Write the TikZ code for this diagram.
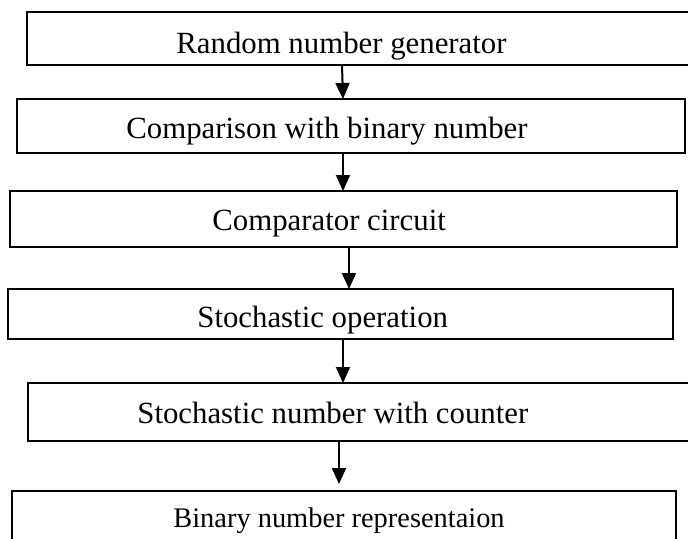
\documentclass[tikz,border=0pt]{standalone}
\usepackage{fontspec}
\setmainfont{Liberation Serif}
\usetikzlibrary{arrows.meta}
\begin{document}
\begin{tikzpicture}[x=0.5pt,y=-0.5pt,
  box/.style={draw,line width=1pt,rectangle,inner sep=0pt,outer sep=0pt,anchor=north west},
  lbl/.style={inner sep=0pt,anchor=base west,font=\fontsize{15.4pt}{18pt}\selectfont},
  flow/.style={line width=1pt,-{Triangle[length=8pt,width=7pt]}}]
\useasboundingbox (0,0) rectangle (688,538);
\begin{scope}
\clip (0,0) rectangle (688,538);
\node[box,minimum width=346.5pt,minimum height=26.5pt] (b1) at (27,12) {};
\node[box,minimum width=334pt,minimum height=27pt] (b2) at (17,99) {};
\node[box,minimum width=333.5pt,minimum height=28pt] (b3) at (10,191) {};
\node[box,minimum width=332.5pt,minimum height=25pt] (b4) at (8,289) {};
\node[box,minimum width=346pt,minimum height=29pt] (b5) at (28,383) {};
\node[box,minimum width=332pt,minimum height=34.5pt] (b6) at (12,491) {};
\end{scope}
\node[lbl] (t1) at (176,53) {Random number generator};
\node[lbl] (t2) at (126,138) {Comparison with binary number};
\node[lbl] (t3) at (212,230) {Comparator circuit};
\node[lbl] (t4) at (197,327) {Stochastic operation};
\node[lbl] (t5) at (137,423) {Stochastic number with counter};
\node[lbl,font=\fontsize{14.2pt}{17pt}\selectfont] (t6) at (173,527) {Binary number representaion};
\coordinate (x1) at (342,0);
\coordinate (x1b) at (343,0);
\coordinate (x2) at (343,0);
\coordinate (x3) at (349,0);
\coordinate (x4) at (343,0);
\coordinate (x5) at (339,0);
\draw[flow] (b1.south -| x1) -- (b2.north -| x1b);
\draw[flow] (b2.south -| x2) -- (b3.north -| x2);
\draw[flow] (b3.south -| x3) -- (b4.north -| x3);
\draw[flow] (b4.south -| x4) -- (b5.north -| x4);
\draw[flow,shorten >=3.5pt] (b5.south -| x5) -- (b6.north -| x5);
\end{tikzpicture}
\end{document}
